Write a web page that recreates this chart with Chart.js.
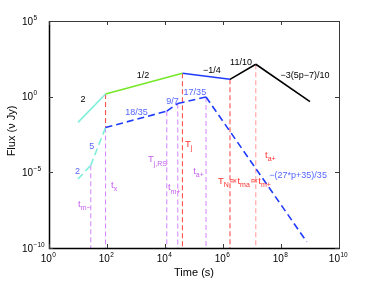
<!DOCTYPE html>
<html>
<head>
<meta charset="utf-8">
<title>Flux light curve</title>
<script src="https://cdn.jsdelivr.net/npm/chart.js@4.4.1/dist/chart.umd.min.js"></script>
<style>
  html, body { margin: 0; padding: 0; background: #fff; }
  #wrap { width: 374px; height: 281px; }
</style>
</head>
<body>
<div id="wrap"><canvas id="chart" width="374" height="281"></canvas></div>
<script>
'use strict';

// ── Data ────────────────────────────────────────────────────────────────────

var xTicks = [1, 1e2, 1e4, 1e6, 1e8, 1e10];
var yTicks = [1e-10, 1e-5, 1e0, 1e5];

// forward shock (solid) break points
var fsTimes = [10, 89, 4.0e4, 1.74e6, 1.35e7, 1.0e9];
var fsFlux  = [0.02, 1.5, 35, 14, 138, 0.47];

// reverse shock (dashed) break points
var rsTimes = [10, 27.5, 89, 1.15e4, 2.75e4, 2.6e5, 7.7e8];
var rsFlux  = [3.6e-6, 2.9e-5, 9.1e-3, 0.11, 0.355, 0.95, 2.6e-10];

// vertical markers
var vTimes   = [27.5, 89, 89, 1.15e4, 2.75e4, 4.0e4, 2.6e5, 1.74e6, 1.35e7];
var vTops    = [2.9e-5, 1.5, 9.1e-3, 0.11, 0.355, 35, 0.95, 14, 138];
var vBottoms = [1e-10, 9.1e-3, 1e-10, 1e-10, 1e-10, 1e-10, 1e-10, 1e-10, 1e-10];
var vKinds   = ['violet', 'red', 'violet', 'violet', 'violet', 'red', 'violet', 'red', 'pink'];

// slope labels: text, log10(t), log10(F)
var slopeTexts = ['2', '1/2', '\u22121/4', '11/10', '\u22123(5p\u22127)/10'];
var slopeLogT  = [1.17, 3.24, 5.62, 6.62, 8.83];
var slopeLogF  = [-0.19, 1.37, 1.76, 2.26, 1.43];

var rsSlopeTexts = ['2', '5', '18/35', '9/7', '17/35', '\u2212(27*p+35)/35'];
var rsSlopeLogT  = [0.98, 1.47, 3.02, 4.26, 5.03, 8.59];
var rsSlopeLogF  = [-4.94, -3.29, -1.04, -0.32, 0.28, -5.24];

// time markers: [base, subscript] pieces, left anchor in log10 units
var markPieces = [
  [['t', 'm\u2212']],
  [['t', 'x']],
  [['T', 'j,RS']],
  [['t', 'm+']],
  [['T', 'j']],
  [['t', 'a+']],
  [['T', 'N'], ['\u2243t', 'ma'], ['\u2243t', 'm+']],
  [['t', 'a+']],
];
var markLogT  = [1.0, 2.14, 3.41, 4.10, 4.69, 4.97, 5.83, 7.45];
var markLogF  = [-7.29, -6.03, -4.32, -6.17, -3.32, -5.11, -5.77, -4.05];
var markKinds = ['violet', 'violet', 'violet', 'violet', 'red', 'violet', 'red', 'red'];

// ── Styles ──────────────────────────────────────────────────────────────────

var FONT = "'Liberation Sans', Arial, sans-serif";
var FS_COLORS = ['#7eefdb', '#74e826', '#1f3bff', '#000000', '#000000'];
var RS_COLORS = ['#7eefdb', '#7eefdb', '#1f3bff', '#1f3bff', '#1f3bff', '#1f3bff'];
var VLINE = { violet: '#d98cff', red: '#ff5050', pink: '#ffa0a0' };
var MARK_TEXT = { violet: '#c45cf0', red: '#ff3030' };

function pow10(v) { return Math.pow(10, v); }

// ── Datasets ────────────────────────────────────────────────────────────────

var datasets = [];

for (var i = 0; i < fsTimes.length - 1; i++) {
  datasets.push({
    data: [{ x: fsTimes[i], y: fsFlux[i] }, { x: fsTimes[i + 1], y: fsFlux[i + 1] }],
    borderColor: FS_COLORS[i],
    borderWidth: 1.6,
    showLine: true,
    pointRadius: 0,
  });
}

for (var j = 0; j < rsTimes.length - 1; j++) {
  datasets.push({
    data: [{ x: rsTimes[j], y: rsFlux[j] }, { x: rsTimes[j + 1], y: rsFlux[j + 1] }],
    borderColor: RS_COLORS[j],
    borderWidth: 1.6,
    borderDash: [7, 4],
    showLine: true,
    pointRadius: 0,
  });
}

vTimes.forEach(function (t, k) {
  datasets.push({
    data: [{ x: t, y: vTops[k] }, { x: t, y: vBottoms[k] }],
    borderColor: VLINE[vKinds[k]],
    borderWidth: 1.1,
    borderDash: [5, 3],
    showLine: true,
    pointRadius: 0,
  });
});

// ── Decorations: frame, inward ticks, labels ───────────────────────────────

function drawPow(ctx, x, y, exp, anchor) {
  ctx.font = '10px ' + FONT;
  var wBase = ctx.measureText('10').width;
  ctx.font = '6.5px ' + FONT;
  var wExp = ctx.measureText(exp).width;
  var x0 = anchor === 'center' ? x - (wBase + wExp) / 2 - 1 : x;
  ctx.textAlign = 'left';
  ctx.textBaseline = 'alphabetic';
  ctx.font = '10px ' + FONT;
  ctx.fillText('10', x0, y);
  ctx.font = '6.5px ' + FONT;
  ctx.fillText(exp, x0 + wBase + 0.5, y - 5);
}

function expText(v) {
  var e = Math.round(Math.log10(v));
  return e < 0 ? '\u2212' + (-e) : String(e);
}

function drawSubLabel(ctx, x, y, pieces, color) {
  ctx.fillStyle = color;
  ctx.textAlign = 'left';
  ctx.textBaseline = 'alphabetic';
  var cx = x;
  pieces.forEach(function (p) {
    ctx.font = '9.5px ' + FONT;
    ctx.fillText(p[0], cx, y);
    cx += ctx.measureText(p[0]).width;
    ctx.font = '7px ' + FONT;
    ctx.fillText(p[1], cx, y + 3.5);
    cx += ctx.measureText(p[1]).width + 0.5;
  });
}

var decorPlugin = {
  id: 'decor',
  afterDraw: function (chart) {
    var ctx = chart.ctx;
    var a = chart.chartArea;
    var sx = chart.scales.x;
    var sy = chart.scales.y;
    ctx.save();

    // frame
    ctx.strokeStyle = '#3a3a3a';
    ctx.lineWidth = 1;
    ctx.strokeRect(a.left + 0.5, a.top + 0.5, a.right - a.left, a.bottom - a.top);
    ctx.strokeStyle = '#000';
    ctx.lineWidth = 1.5;
    ctx.beginPath();
    ctx.moveTo(a.left + 0.5, a.top);
    ctx.lineTo(a.left + 0.5, a.bottom + 0.5);
    ctx.lineTo(a.right + 0.5, a.bottom + 0.5);
    ctx.stroke();

    // inward ticks
    ctx.lineWidth = 1;
    ctx.strokeStyle = '#3a3a3a';
    ctx.beginPath();
    xTicks.forEach(function (t) {
      var px = Math.round(sx.getPixelForValue(t)) + 0.5;
      ctx.moveTo(px, a.bottom); ctx.lineTo(px, a.bottom - 4);
      ctx.moveTo(px, a.top); ctx.lineTo(px, a.top + 4);
    });
    yTicks.forEach(function (f) {
      var py = Math.round(sy.getPixelForValue(f)) + 0.5;
      ctx.moveTo(a.left, py); ctx.lineTo(a.left + 4, py);
      ctx.moveTo(a.right, py); ctx.lineTo(a.right - 4, py);
    });
    ctx.stroke();

    // tick labels
    ctx.fillStyle = '#000';
    xTicks.forEach(function (t) {
      drawPow(ctx, sx.getPixelForValue(t), a.bottom + 14, expText(t), 'center');
    });
    yTicks.forEach(function (f) {
      drawPow(ctx, 22, sy.getPixelForValue(f) + 3.5, expText(f), 'left');
    });

    // axis titles
    ctx.font = '11px ' + FONT;
    ctx.textAlign = 'center';
    ctx.textBaseline = 'middle';
    ctx.fillText('Time (s)', (a.left + a.right) / 2, 273);
    ctx.save();
    ctx.translate(12, 131);
    ctx.rotate(-Math.PI / 2);
    ctx.fillText('Flux (\u03bd Jy)', 0, 0);
    ctx.restore();

    // slope labels
    ctx.font = '9px ' + FONT;
    ctx.fillStyle = '#000';
    slopeTexts.forEach(function (s, k) {
      ctx.fillText(s, sx.getPixelForValue(pow10(slopeLogT[k])), sy.getPixelForValue(pow10(slopeLogF[k])));
    });
    ctx.fillStyle = '#5566ff';
    rsSlopeTexts.forEach(function (s, k) {
      ctx.fillText(s, sx.getPixelForValue(pow10(rsSlopeLogT[k])), sy.getPixelForValue(pow10(rsSlopeLogF[k])));
    });

    // time markers
    markPieces.forEach(function (pieces, k) {
      drawSubLabel(ctx,
        sx.getPixelForValue(pow10(markLogT[k])),
        sy.getPixelForValue(pow10(markLogF[k])),
        pieces, MARK_TEXT[markKinds[k]]);
    });

    ctx.restore();
  },
};

// ── Chart ───────────────────────────────────────────────────────────────────

new Chart(document.getElementById('chart'), {
  type: 'scatter',
  data: { datasets: datasets },
  options: {
    responsive: false,
    animation: false,
    layout: { padding: { left: 49, right: 35, top: 21, bottom: 33 } },
    scales: {
      x: { type: 'logarithmic', min: 1, max: 1e10, display: false },
      y: { type: 'logarithmic', min: 1e-10, max: 1e5, display: false },
    },
    plugins: {
      legend: { display: false },
      tooltip: { enabled: false },
    },
  },
  plugins: [decorPlugin],
});
</script>
</body>
</html>
